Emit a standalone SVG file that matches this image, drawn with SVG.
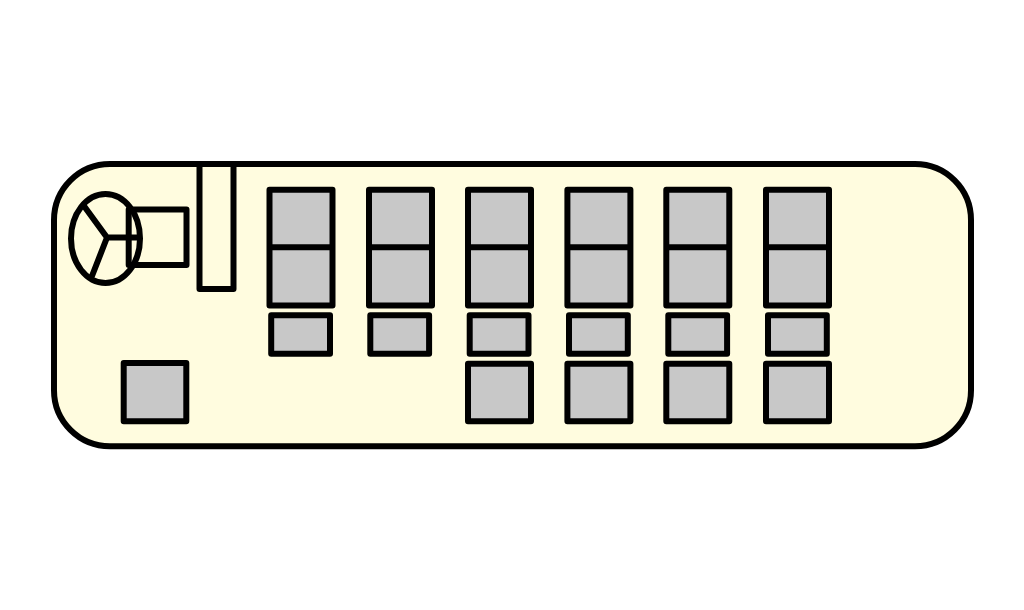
<svg xmlns="http://www.w3.org/2000/svg" width="1024" height="610" viewBox="0 0 1024 610">
<style>
.s{stroke:#000;stroke-width:6;stroke-linejoin:round;stroke-linecap:round}
.g{fill:#c8c8c8}
.y{fill:#fffcdf}
.n{fill:none}
.d{stroke:#000;stroke-width:6;fill:none}
</style>
<rect width="1024" height="610" fill="#fff"/>
<g id="body"><rect class="s y" x="54" y="164" width="917" height="282.300" rx="56" ry="56"/></g>
<g id="dash"><rect class="y" x="199.500" y="167" width="34" height="122"/><path class="s n" d="M199.500 164V289H233.500V164"/></g>
<g id="seat-driver"><rect class="s y" x="128.700" y="209.500" width="57.800" height="55.500"/></g>
<g id="wheel"><ellipse class="s n" cx="105.500" cy="238.500" rx="34.500" ry="44.500"/><path class="s n" d="M84 206L107 237.500L92 276M107 237.500H137"/></g>
<g id="seat-door"><rect class="s g" x="123.700" y="363" width="62.600" height="58.300"/></g>
<g id="row1"><rect class="s g" x="269.500" y="189.700" width="63" height="115.800"/><path class="d" d="M269.500 247.300H332.500"/><rect class="s g" x="271.200" y="315.300" width="58.800" height="38.500"/></g>
<g id="row2"><rect class="s g" x="369" y="189.700" width="63" height="115.800"/><path class="d" d="M369 247.300H432"/><rect class="s g" x="370.300" y="315.300" width="58.800" height="38.500"/></g>
<g id="row3"><rect class="s g" x="468" y="189.700" width="63" height="115.800"/><path class="d" d="M468 247.300H531"/><rect class="s g" x="469.700" y="315.300" width="58.800" height="38.500"/><rect class="s g" x="468" y="363.700" width="63" height="57.600"/></g>
<g id="row4"><rect class="s g" x="567.400" y="189.700" width="63" height="115.800"/><path class="d" d="M567.400 247.300H630.400"/><rect class="s g" x="569" y="315.300" width="58.800" height="38.500"/><rect class="s g" x="567.400" y="363.700" width="63" height="57.600"/></g>
<g id="row5"><rect class="s g" x="666.300" y="189.700" width="63" height="115.800"/><path class="d" d="M666.300 247.300H729.300"/><rect class="s g" x="668.300" y="315.300" width="58.800" height="38.500"/><rect class="s g" x="666.300" y="363.700" width="63" height="57.600"/></g>
<g id="row6"><rect class="s g" x="766" y="189.700" width="63" height="115.800"/><path class="d" d="M766 247.300H829"/><rect class="s g" x="768" y="315.300" width="58.800" height="38.500"/><rect class="s g" x="766" y="363.700" width="63" height="57.600"/></g>
</svg>
